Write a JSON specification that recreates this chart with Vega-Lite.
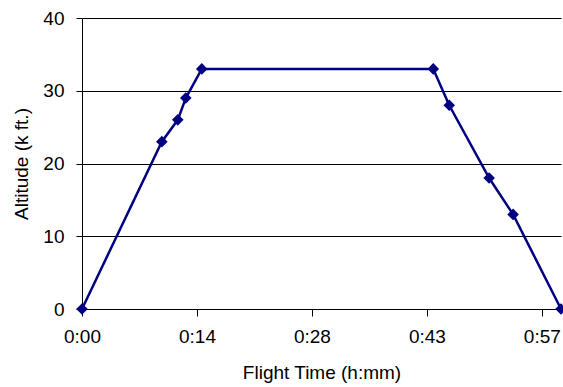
{
  "$schema": "https://vega.github.io/schema/vega-lite/v6.json",
  "width": 479,
  "height": 291,
  "autosize": "none",
  "padding": {"left": 82, "top": 18, "right": 2, "bottom": 78},
  "background": "white",
  "config": {
    "view": {"stroke": null},
    "font": "Liberation Sans",
    "axis": {
      "labelFont": "Liberation Sans",
      "titleFont": "Liberation Sans",
      "labelFontSize": 19,
      "titleFontSize": 19,
      "labelColor": "black",
      "titleColor": "black",
      "titleFontWeight": "normal",
      "domainColor": "black",
      "tickColor": "black",
      "gridColor": "black",
      "gridOpacity": 1
    }
  },
  "data": {
    "values": [
      {"minutes": 0, "altitude": 0},
      {"minutes": 10, "altitude": 23},
      {"minutes": 12, "altitude": 26},
      {"minutes": 13, "altitude": 29},
      {"minutes": 15, "altitude": 33},
      {"minutes": 44, "altitude": 33},
      {"minutes": 46, "altitude": 28},
      {"minutes": 51, "altitude": 18},
      {"minutes": 54, "altitude": 13},
      {"minutes": 60, "altitude": 0}
    ]
  },
  "encoding": {
    "x": {
      "field": "minutes",
      "type": "quantitative",
      "scale": {"domain": [0, 60], "nice": false, "zero": true},
      "axis": {
        "title": "Flight Time (h:mm)",
        "values": [0, 14.4, 28.8, 43.2, 57.6],
        "labelExpr": "'0:' + (floor(datum.value) < 10 ? '0' : '') + floor(datum.value)",
        "grid": false,
        "tickSize": 7,
        "labelPadding": 11,
        "titlePadding": 17,
        "labelFlush": false,
        "labelOverlap": false
      }
    },
    "y": {
      "field": "altitude",
      "type": "quantitative",
      "scale": {"domain": [0, 40], "nice": false},
      "axis": {
        "title": "Altitude (k ft.)",
        "values": [0, 10, 20, 30, 40],
        "grid": true,
        "tickSize": 6,
        "labelPadding": 12,
        "titlePadding": 11
      }
    }
  },
  "layer": [
    {
      "mark": {"type": "line", "color": "#000080", "strokeWidth": 2.5, "clip": false}
    },
    {
      "mark": {"type": "point", "shape": "diamond", "filled": true, "color": "#000080", "size": 135, "opacity": 1, "clip": false}
    }
  ]
}
